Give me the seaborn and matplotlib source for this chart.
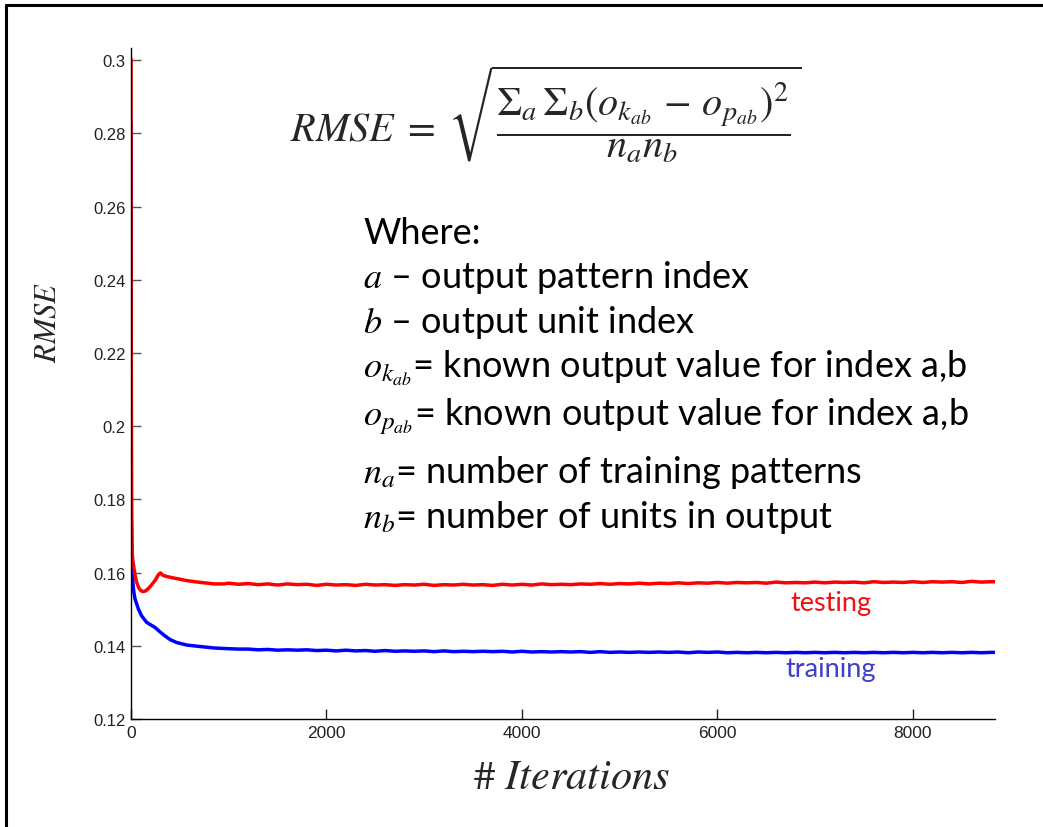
import matplotlib
matplotlib.use("Agg")
import matplotlib.pyplot as plt
from matplotlib.lines import Line2D
import numpy as np
import pandas as pd
import seaborn as sns

# ---- data -------------------------------------------------------------
# early part of training (dense sampling where the curves change fast)
testing_iter_early = [0, 2, 5, 10, 20, 40, 60, 80, 100, 120, 150, 180, 210,
                      250, 280, 300, 330, 370, 420, 480, 550, 650, 750, 850, 950]
testing_rmse_early = [0.3003, 0.2300, 0.1800, 0.1660, 0.1630, 0.1595, 0.1572,
                      0.1558, 0.1551, 0.1548, 0.1550, 0.1557, 0.1566, 0.1580,
                      0.1594, 0.1599, 0.1592, 0.1589, 0.1586, 0.1583, 0.1579,
                      0.1575, 0.1572, 0.1569, 0.1569]
# plateau, every 100 iterations from 1000 to 8800, then the last iteration
testing_rmse_late = [
    0.1571, 0.1568, 0.1570, 0.1567, 0.1569, 0.1566, 0.1569, 0.1567, 0.1568, 0.1565,
    0.1568, 0.1566, 0.1567, 0.1565, 0.1568, 0.1566, 0.1567, 0.1565, 0.1567, 0.1566,
    0.1568, 0.1565, 0.1567, 0.1566, 0.1568, 0.1566, 0.1567, 0.1565, 0.1568, 0.1566,
    0.1568, 0.1566, 0.1569, 0.1567, 0.1568, 0.1567, 0.1569, 0.1568, 0.1570, 0.1568,
    0.1570, 0.1569, 0.1571, 0.1569, 0.1571, 0.1570, 0.1572, 0.1570, 0.1572, 0.1571,
    0.1573, 0.1571, 0.1573, 0.1572, 0.1573, 0.1571, 0.1574, 0.1572, 0.1573, 0.1572,
    0.1574, 0.1572, 0.1574, 0.1573, 0.1574, 0.1572, 0.1575, 0.1573, 0.1574, 0.1573,
    0.1575, 0.1573, 0.1575, 0.1574, 0.1575, 0.1573, 0.1576, 0.1574, 0.1575, 0.1575]
testing_iter_late = list(range(1000, 8801, 100)) + [8840]

training_iter_early = [0, 2, 5, 10, 20, 30, 41, 75, 108, 160, 246, 297, 348,
                       400, 467, 570, 706, 850, 1000, 1100]
training_rmse_early = [0.2830, 0.2200, 0.1740, 0.1650, 0.1570, 0.1545, 0.1528,
                       0.1501, 0.1482, 0.1464, 0.1450, 0.1438, 0.1427, 0.1417,
                       0.1409, 0.1402, 0.1398, 0.1394, 0.1392, 0.1391]
training_rmse_late = [
    0.1391, 0.1389, 0.1390, 0.1388, 0.1389, 0.1388, 0.1389, 0.1387, 0.1388, 0.1386,
    0.1388, 0.1386, 0.1387, 0.1385, 0.1387, 0.1385, 0.1386, 0.1385, 0.1386, 0.1384,
    0.1386, 0.1384, 0.1385, 0.1384, 0.1385, 0.1384, 0.1385, 0.1383, 0.1385, 0.1383,
    0.1384, 0.1383, 0.1384, 0.1383, 0.1384, 0.1382, 0.1384, 0.1382, 0.1383, 0.1382,
    0.1383, 0.1382, 0.1383, 0.1382, 0.1383, 0.1381, 0.1383, 0.1382, 0.1383, 0.1381,
    0.1382, 0.1381, 0.1382, 0.1381, 0.1382, 0.1381, 0.1382, 0.1381, 0.1382, 0.1381,
    0.1382, 0.1381, 0.1382, 0.1381, 0.1382, 0.1381, 0.1382, 0.1381, 0.1382, 0.1381,
    0.1382, 0.1381, 0.1382, 0.1381, 0.1382, 0.1381, 0.1382, 0.1382]
training_iter_late = list(range(1200, 8801, 100)) + [8840]

y_ticks = [0.12, 0.14, 0.16, 0.18, 0.20, 0.22, 0.24, 0.26, 0.28, 0.30]
y_tick_labels = ["0.12", "0.14", "0.16", "0.18", "0.2", "0.22", "0.24", "0.26", "0.28", "0.3"]
x_ticks = [0, 2000, 4000, 6000, 8000]
x_tick_labels = ["0", "2000", "4000", "6000", "8000"]

series_colors = {"training": "#0000ff", "testing": "#ff0000"}

# ---- assemble long-form table ----------------------------------------
frames = []
for name, xs, ys in [
    ("training", training_iter_early + training_iter_late, training_rmse_early + training_rmse_late),
    ("testing", testing_iter_early + testing_iter_late, testing_rmse_early + testing_rmse_late),
]:
    frames.append(pd.DataFrame({"iteration": xs, "rmse": ys, "set": name}))
df = pd.concat(frames, ignore_index=True)

# ---- figure -----------------------------------------------------------
sns.set_style("white")
plt.rcParams["font.family"] = ["Lato", "DejaVu Sans"]
plt.rcParams["mathtext.fontset"] = "stix"

W, H = 1043, 828
fig = plt.figure(figsize=(W / 100, H / 100), dpi=100)
fig.patch.set_facecolor("white")


def fx(x):
    return x / W


def fy(y):
    return 1 - y / H


ax = fig.add_axes([fx(131), fy(720), fx(995) - fx(131), fy(49) - fy(720)])
sns.lineplot(data=df, x="iteration", y="rmse", hue="set",
             hue_order=["training", "testing"], palette=series_colors,
             estimator=None, sort=False, legend=False, linewidth=2.5, ax=ax)

ax.set_xlim(0, 8840)
ax.set_ylim(0.12, 0.3033)
ax.set_facecolor("white")
for side in ("top", "right"):
    ax.spines[side].set_visible(False)
for side in ("left", "bottom"):
    ax.spines[side].set_color("black")
    ax.spines[side].set_linewidth(1.0)

ax.set_yticks(y_ticks)
ax.set_yticklabels(y_tick_labels, fontfamily="Liberation Sans", fontsize=12, color="#222222")
ax.set_xticks(x_ticks)
ax.set_xticklabels(x_tick_labels, fontfamily="Liberation Sans", fontsize=12.5, color="#222222")
ax.tick_params(axis="y", direction="in", length=7, width=1, color="#555555", pad=4, left=True)
ax.tick_params(axis="x", direction="in", length=7, width=1, color="#222222", pad=4, bottom=True)
ax.set_xlabel("")
ax.set_ylabel("")

# axis titles
fig.text(fx(46), fy(322), r"$RMSE$", rotation=90, ha="center", va="center", fontsize=22)
fig.text(fx(572), fy(777), r"$\#\ Iterations$", ha="center", va="center", fontsize=30.5)

# formula
fig.text(fx(546), fy(114),
         r"$RMSE\;=\;\sqrt{\dfrac{\Sigma_a\,\Sigma_b(o_{k_{ab}}\,-\,o_{p_{ab}})^2}{n_a n_b}}$",
         ha="center", va="center", fontsize=29)

# definitions
defs = [
    (244, "Where:"),
    (288, r"$a$ – output pattern index"),
    (333, r"$b$ – output unit index"),
    (378, r"$o_{k_{ab}}$= known output value for index a,b"),
    (425, r"$o_{p_{ab}}$= known output value for index a,b"),
    (483, r"$n_a$= number of training patterns"),
    (528, r"$n_b$= number of units in output"),
]
for ybase, s in defs:
    fig.text(fx(363), fy(ybase), s, ha="left", va="baseline", fontsize=26, color="black")

# series labels
fig.text(fx(831), fy(604), "testing", ha="center", va="center", fontsize=19.5, color="#ee1111")
fig.text(fx(831), fy(670), "training", ha="center", va="center", fontsize=19.5, color="#3f3fcc")

# outer frame (top and left edges visible)
fig.add_artist(Line2D([fx(6), 1.0], [fy(6), fy(6)], color="black", linewidth=2.2,
                      transform=fig.transFigure))
fig.add_artist(Line2D([fx(6), fx(6)], [0.0, fy(6)], color="black", linewidth=2.2,
                      transform=fig.transFigure))

fig.savefig("out.png", dpi=100, facecolor="white")
